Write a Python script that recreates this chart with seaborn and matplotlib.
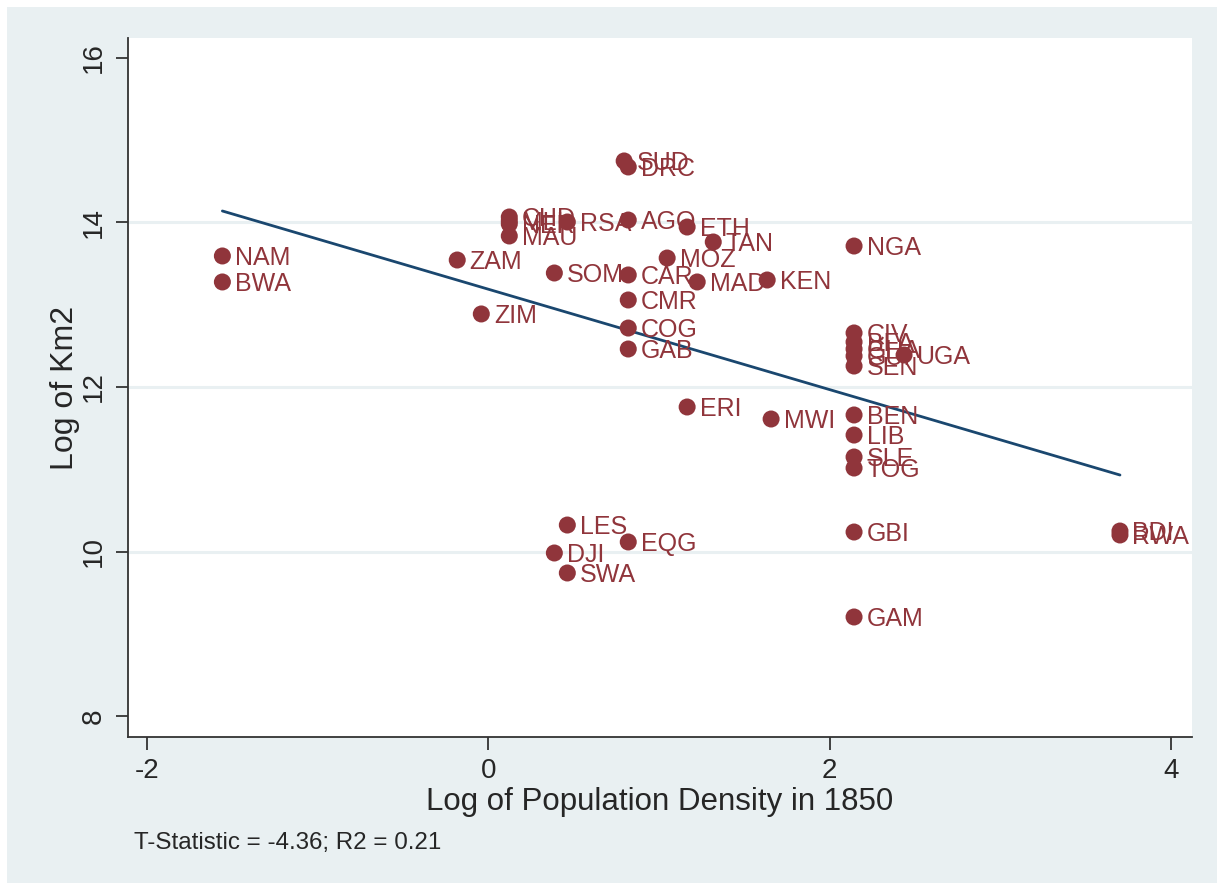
import numpy as np
import pandas as pd
import seaborn as sns
import matplotlib.pyplot as plt
from matplotlib.patches import Rectangle

# ---------------- data ----------------
countries = ["NAM", "BWA", "ZAM", "ZIM", "CHD", "MLI", "NER", "MAU", "RSA", "AGO",
             "SUD", "DRC", "ETH", "TAN", "MOZ", "SOM", "CAR", "MAD", "KEN", "NGA",
             "CMR", "COG", "GAB", "CIV", "BFA", "GHA", "GUI", "SEN", "UGA", "BEN",
             "LIB", "SLE", "TOG", "GBI", "GAM", "ERI", "MWI", "LES", "EQG", "DJI",
             "SWA", "BDI", "RWA"]
log_density = [-1.558, -1.558, -0.182, -0.041, 0.123, 0.123, 0.123, 0.123, 0.463, 0.820,
               0.796, 0.820, 1.165, 1.318, 1.048, 0.387, 0.820, 1.224, 1.634, 2.143,
               0.820, 0.820, 0.820, 2.143, 2.143, 2.143, 2.143, 2.143, 2.436, 2.143,
               2.143, 2.143, 2.143, 2.143, 2.143, 1.165, 1.657, 0.463, 0.820, 0.387,
               0.463, 3.701, 3.701]
log_km2 = [13.593, 13.277, 13.544, 12.888, 14.067, 14.020, 13.982, 13.836, 14.006, 14.030,
           14.748, 14.675, 13.945, 13.763, 13.568, 13.386, 13.362, 13.277, 13.301, 13.714,
           13.058, 12.717, 12.462, 12.657, 12.547, 12.462, 12.377, 12.255, 12.389, 11.660,
           11.416, 11.149, 11.015, 10.237, 9.204, 11.757, 11.611, 10.322, 10.116, 9.982,
           9.739, 10.249, 10.201]

# fitted line end points
fit_x = [-1.558, 3.701]
fit_y = [14.140, 10.930]

df = pd.DataFrame({"country": countries, "density": log_density, "km2": log_km2})
fit = pd.DataFrame({"x": fit_x, "y": fit_y})

maroon = "#90353b"
navy = "#1a476f"
bg = "#e9f0f2"

sns.set_style("white")
plt.rcParams["font.family"] = ["Liberation Sans", "DejaVu Sans"]
plt.rcParams["axes.unicode_minus"] = False

fig = plt.figure(figsize=(12.24, 8.9), dpi=100, facecolor="white")
fig.patches.append(Rectangle((7 / 1224, 7 / 890), 1210 / 1224, 876 / 890,
                             transform=fig.transFigure, facecolor=bg,
                             edgecolor="none", zorder=-10))
ax = fig.add_axes([128 / 1224, 1 - 737 / 890, 1064 / 1224, 699 / 890])
ax.set_facecolor("white")

for yv in [10, 12, 14]:
    ax.axhline(yv, color=bg, lw=2.2, zorder=0)

sns.scatterplot(data=df, x="density", y="km2", ax=ax, color=maroon, s=150,
                edgecolor="none", zorder=3, legend=False)
sns.lineplot(data=fit, x="x", y="y", ax=ax, color=navy, lw=2, zorder=2)

for _, r in df.iterrows():
    ax.annotate(r["country"], (r["density"], r["km2"]), xytext=(9, -1.5),
                textcoords="offset points", va="center", ha="left",
                fontsize=18, color=maroon, zorder=4)

ax.set_xlim(-2.111, 4.123)
ax.set_ylim(7.745, 16.243)
ax.set_xticks([-2, 0, 2, 4])
ax.set_yticks([8, 10, 12, 14, 16])
ax.tick_params(axis="both", direction="out", length=9, width=1.3, color="#333333",
               labelsize=20, pad=6, bottom=True, left=True)
plt.setp(ax.get_yticklabels(), rotation=90, va="center")

for s in ["top", "right"]:
    ax.spines[s].set_visible(False)
for s in ["left", "bottom"]:
    ax.spines[s].set_color("#333333")
    ax.spines[s].set_linewidth(1.3)

ax.set_xlabel("Log of Population Density in 1850", fontsize=22.5, labelpad=2)
ax.set_ylabel("Log of Km2", fontsize=23, labelpad=1)

fig.text(134 / 1224, 1 - 843 / 890, "T-Statistic = -4.36; R2 = 0.21",
         fontsize=17.4, va="center", ha="left")

fig.savefig("out.png", dpi=100, facecolor="white")
